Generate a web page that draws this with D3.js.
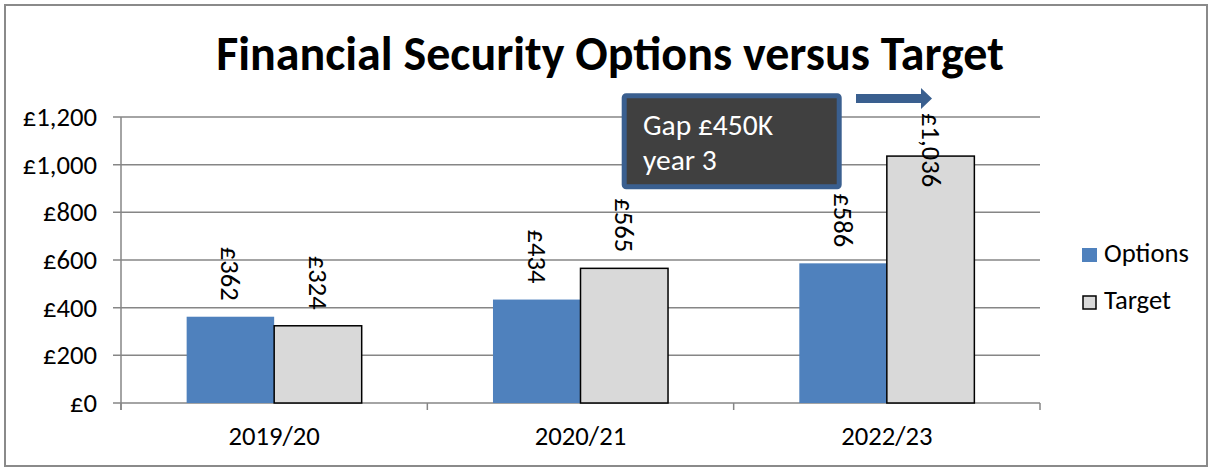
<!DOCTYPE html>
<html>
<head>
<meta charset="utf-8">
<script src="https://cdn.jsdelivr.net/npm/d3@7"></script>
<style>
  html, body { margin: 0; padding: 0; background: #fff; }
  svg { display: block; }
  text { font-family: Carlito, Lato, "Open Sans", sans-serif; fill: #000; }
</style>
</head>
<body>
<svg id="chart" width="1213" height="467"></svg>
<script>
const categories = ["2019/20", "2020/21", "2022/23"];
const seriesNames = ["Options", "Target"];
const optionsValues = [362, 434, 586];
const targetValues = [324, 565, 1036];
const yTicks = [0, 200, 400, 600, 800, 1000, 1200];
const titleText = "Financial Security Options versus Target";
const noteLines = ["Gap £450K", "year 3"];

const colors = { Options: "#4F81BD", Target: "#D9D9D9" };
const grid = "#868686";
const fs = "26.67px";

const svg = d3.select("#chart");

// outer border
svg.append("rect").attr("x", 5).attr("y", 5).attr("width", 1202).attr("height", 461)
  .attr("fill", "none").attr("stroke", "#8a8a8a").attr("stroke-width", 2);

const plot = { left: 121, right: 1040, top: 117, bottom: 403 };

const y = d3.scaleLinear().domain([0, 1200]).range([plot.bottom, plot.top]);
const x = d3.scaleBand().domain(categories).range([plot.left, plot.right]).padding(0);
const xs = d3.scaleBand().domain(seriesNames).range([0, x.bandwidth()]).paddingInner(0).paddingOuter(0.75);

// title
svg.append("text").attr("x", 610).attr("y", 70).attr("text-anchor", "middle")
  .style("font-size", "48px").style("font-weight", "bold").text(titleText);

// gridlines
svg.append("g").selectAll("line").data(yTicks).join("line")
  .attr("x1", plot.left - 8).attr("x2", plot.right)
  .attr("y1", d => y(d)).attr("y2", d => y(d))
  .attr("stroke", grid).attr("stroke-width", 1.5);

// y axis line
svg.append("line").attr("x1", plot.left).attr("x2", plot.left)
  .attr("y1", plot.top).attr("y2", plot.bottom + 7)
  .attr("stroke", grid).attr("stroke-width", 1.5);

// y tick labels
svg.append("g").selectAll("text").data(yTicks).join("text")
  .attr("x", 97).attr("y", d => y(d) + 9).attr("text-anchor", "end")
  .style("font-size", fs)
  .text(d => "£" + d3.format(",")(d));

// x ticks
const xBounds = categories.map(c => x(c)).concat([plot.right]);
svg.append("g").selectAll("line").data(xBounds).join("line")
  .attr("x1", d => d).attr("x2", d => d)
  .attr("y1", plot.bottom).attr("y2", plot.bottom + 7)
  .attr("stroke", grid).attr("stroke-width", 1.5);

// x labels
svg.append("g").selectAll("text").data(categories).join("text")
  .attr("x", d => x(d) + x.bandwidth() / 2).attr("y", 445).attr("text-anchor", "middle")
  .style("font-size", fs).text(d => d);

// bars
const rows = [];
categories.forEach((c, i) => {
  rows.push({ cat: c, s: "Options", v: optionsValues[i] });
  rows.push({ cat: c, s: "Target", v: targetValues[i] });
});

svg.append("g").selectAll("rect").data(rows).join("rect")
  .attr("x", d => x(d.cat) + xs(d.s))
  .attr("y", d => y(d.v))
  .attr("width", xs.bandwidth())
  .attr("height", d => y(0) - y(d.v))
  .attr("fill", d => colors[d.s])
  .attr("stroke", d => d.s === "Target" ? "#000" : "none")
  .attr("stroke-width", 1.5);

// value labels (rotated, reading downward)
const labels = svg.append("g").selectAll("text").data(rows).join("text")
  .style("font-size", fs)
  .attr("dominant-baseline", "central")
  .text(d => "£" + d3.format(",")(d.v));
labels.each(function(d) {
  const len = this.getComputedTextLength();
  const cx = x(d.cat) + xs(d.s) + xs.bandwidth() / 2;
  let top = y(d.v) - 16 - len;
  if (top < plot.top - 4) top = plot.top - 4;
  d3.select(this).attr("text-anchor", "start")
    .attr("transform", `translate(${cx},${top}) rotate(90)`);
});

// legend
const legend = svg.append("g");
seriesNames.forEach((s, i) => {
  const ly = 248 + i * 47;
  legend.append("rect").attr("x", s === "Target" ? 1083 : 1082).attr("y", s === "Target" ? ly + 1 : ly)
    .attr("width", s === "Target" ? 13 : 15).attr("height", s === "Target" ? 13 : 14)
    .attr("fill", colors[s])
    .attr("stroke", s === "Target" ? "#000" : "none").attr("stroke-width", 1.5);
  legend.append("text").attr("x", 1104).attr("y", ly + 14)
    .style("font-size", fs).text(s);
});

// annotation box
svg.append("rect").attr("x", 624.2).attr("y", 95.8).attr("width", 215).attr("height", 91)
  .attr("rx", 2).attr("fill", "#404040").attr("stroke", "#3A5F8F").attr("stroke-width", 5);
svg.append("g").selectAll("text").data(noteLines).join("text")
  .attr("x", 643).attr("y", (d, i) => 135 + i * 35)
  .style("font-size", "29.5px").style("fill", "#fff").text(d => d);

// arrow
svg.append("path")
  .attr("d", "M856,94 L921,94 L921,88 L932,98.5 L921,109 L921,103 L856,103 Z")
  .attr("fill", "#3A5F8F");
</script>
</body>
</html>
